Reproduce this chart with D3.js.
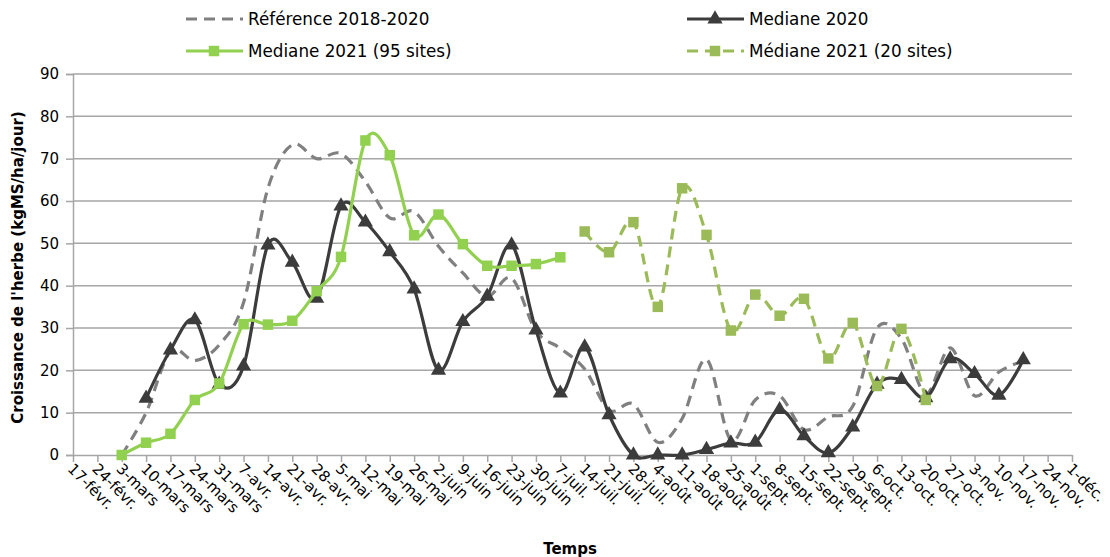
<!DOCTYPE html>
<html>
<head>
<meta charset="utf-8">
<script src="https://cdn.jsdelivr.net/npm/d3@7"></script>
<style>
  html, body { margin: 0; padding: 0; background: #fff; }
  svg { display: block; }
  text { font-family: "DejaVu Sans", Verdana, sans-serif; fill: #000; }
</style>
</head>
<body>
<svg id="chart" width="1110" height="557"></svg>
<script>
// Weekly categories
const categories = ["17-févr.","24-févr.","3-mars","10-mars","17-mars","24-mars","31-mars","7-avr.","14-avr.","21-avr.","28-avr.","5-mai","12-mai","19-mai","26-mai","2-juin","9-juin","16-juin","23-juin","30-juin","7-juil.","14-juil.","21-juil.","28-juil.","4-août","11-août","18-août","25-août","1-sept.","8-sept.","15-sept.","22-sept.","29-sept.","6-oct.","13-oct.","20-oct.","27-oct.","3-nov.","10-nov.","17-nov.","24-nov.","1-déc."];

// Grass growth (kgMS/ha/jour) per week; null = no value
const reference1820 = [null,null,0,10,24.5,22.3,26,36,63,73.3,70,71.2,64.6,56,57.5,49.3,43,37.5,41.8,29.3,25.2,20.3,10.6,12,3,8.6,22.6,3.5,13,14,6,9,11.5,30,27.5,14.5,25.3,14,19.6,22.2,null,null];
const mediane2020 = [null,null,null,13.4,24.8,31.9,16.7,21,49.6,45.5,37,58.8,55,48,39.2,20,31.5,37.5,49.6,29.5,14.6,25.5,9.5,0,0,0,1.3,2.8,3,10.7,4.5,0.5,6.6,16.7,17.8,13.5,22.7,19.2,14.1,22.5,null,null];
const mediane2021_95 = [null,null,0,2.9,5,13,16.9,30.9,30.8,31.7,38.7,46.8,74.3,70.8,51.9,56.8,49.8,44.7,44.7,45.1,46.7,null,null,null,null,null,null,null,null,null,null,null,null,null,null,null,null,null,null,null,null,null];
const mediane2021_20 = [null,null,null,null,null,null,null,null,null,null,null,null,null,null,null,null,null,null,null,null,null,52.8,47.9,55,35,63,52,29.4,37.9,32.9,36.9,22.8,31.2,16.3,29.8,13,null,null,null,null,null,null];

const yTicks = [0,10,20,30,40,50,60,70,80,90];

const seriesNames = ["Référence 2018-2020","Mediane 2020","Mediane 2021 (95 sites)","Médiane 2021 (20 sites)"];

const svg = d3.select("#chart");
const plotLeft = 73, plotRight = 1072, plotTop = 74, plotBottom = 455;

const x = d3.scalePoint().domain(categories).range([plotLeft, plotRight]).padding(0);
const y = d3.scaleLinear().domain([0, 90]).range([plotBottom, plotTop]);

const gridColor = "#a6a6a6";

// Horizontal gridlines
svg.append("g").selectAll("line").data(yTicks.filter(t => t > 0)).join("line")
  .attr("x1", plotLeft).attr("x2", plotRight)
  .attr("y1", d => y(d)).attr("y2", d => y(d))
  .attr("stroke", gridColor).attr("stroke-width", 1.5);

// Y axis
const yAxis = svg.append("g").attr("transform", `translate(${plotLeft},0)`)
  .call(d3.axisLeft(y).tickValues(yTicks).tickSize(7).tickPadding(7));
yAxis.select(".domain").attr("stroke", gridColor).attr("stroke-width", 1.5);
yAxis.selectAll(".tick line").attr("stroke", gridColor).attr("stroke-width", 1.5);
yAxis.selectAll(".tick text").style("font-size", "15px").style("font-family", "DejaVu Sans, Verdana, sans-serif").attr("fill", "#000");

// X axis with labels slanted down to the right
const xAxis = svg.append("g").attr("transform", `translate(0,${plotBottom})`)
  .call(d3.axisBottom(x).tickSize(7).tickSizeOuter(0));
xAxis.select(".domain").attr("stroke", gridColor).attr("stroke-width", 1.5);
xAxis.selectAll(".tick line").attr("stroke", gridColor).attr("stroke-width", 1.5);
xAxis.selectAll(".tick text")
  .style("font-size", "15px").style("font-family", "DejaVu Sans, Verdana, sans-serif")
  .attr("fill", "#000")
  .attr("text-anchor", "start")
  .attr("x", 0).attr("y", 0).attr("dy", "0.35em")
  .attr("transform", "translate(-3,11) rotate(45)");

// Axis titles
svg.append("text")
  .attr("transform", `translate(23,${(plotTop + plotBottom) / 2 + 3}) rotate(-90)`)
  .attr("text-anchor", "middle")
  .style("font-size", "15px").style("font-weight", "bold")
  .text("Croissance de l'herbe (kgMS/ha/jour)");
svg.append("text")
  .attr("x", 570).attr("y", 554)
  .attr("text-anchor", "middle")
  .style("font-size", "15px").style("font-weight", "bold")
  .text("Temps");

// Series
const curve = d3.curveCatmullRom.alpha(0);
const lineGen = d3.line()
  .defined(d => d.v != null)
  .x(d => x(d.c)).y(d => y(d.v))
  .curve(curve);
const toPts = arr => arr.map((v, i) => ({ c: categories[i], v }));

const tri = d3.symbol().type(d3.symbolTriangle).size(100);
const sq = d3.symbol().type(d3.symbolSquare).size(110);

const styles = [
  { data: reference1820, color: "#808080", width: 3.2, dash: "11,7", marker: null },
  { data: mediane2020, color: "#3c3c3c", width: 3.2, dash: null, marker: tri },
  { data: mediane2021_95, color: "#92d050", width: 3.2, dash: null, marker: sq },
  { data: mediane2021_20, color: "#9bbb59", width: 3.2, dash: "11,7", marker: sq }
];

styles.forEach(s => {
  const pts = toPts(s.data);
  const g = svg.append("g");
  g.append("path")
    .attr("d", lineGen(pts))
    .attr("fill", "none")
    .attr("stroke", s.color)
    .attr("stroke-width", s.width)
    .attr("stroke-dasharray", s.dash)
    .attr("stroke-linejoin", "round");
  if (s.marker) {
    g.selectAll("path.mk").data(pts.filter(d => d.v != null)).join("path")
      .attr("class", "mk")
      .attr("d", s.marker)
      .attr("transform", d => `translate(${x(d.c)},${y(d.v)})`)
      .attr("fill", s.color);
  }
});

// Legend
const legendItems = [
  { name: seriesNames[0], s: styles[0], lx: 186, ly: 19 },
  { name: seriesNames[1], s: styles[1], lx: 687, ly: 19 },
  { name: seriesNames[2], s: styles[2], lx: 186, ly: 51 },
  { name: seriesNames[3], s: styles[3], lx: 687, ly: 51 }
];
const legend = svg.append("g");
legendItems.forEach(it => {
  const g = legend.append("g").attr("transform", `translate(${it.lx},${it.ly})`);
  g.append("line").attr("x1", 0).attr("x2", 57).attr("y1", 0).attr("y2", 0)
    .attr("stroke", it.s.color).attr("stroke-width", it.s.width)
    .attr("stroke-dasharray", it.s.dash);
  if (it.s.marker) {
    g.append("path").attr("d", it.s.marker).attr("transform", "translate(28,0)").attr("fill", it.s.color);
  }
  g.append("text").attr("x", 62).attr("y", 0).attr("dy", "0.35em")
    .style("font-size", "16.8px").text(it.name);
});
</script>
</body>
</html>
